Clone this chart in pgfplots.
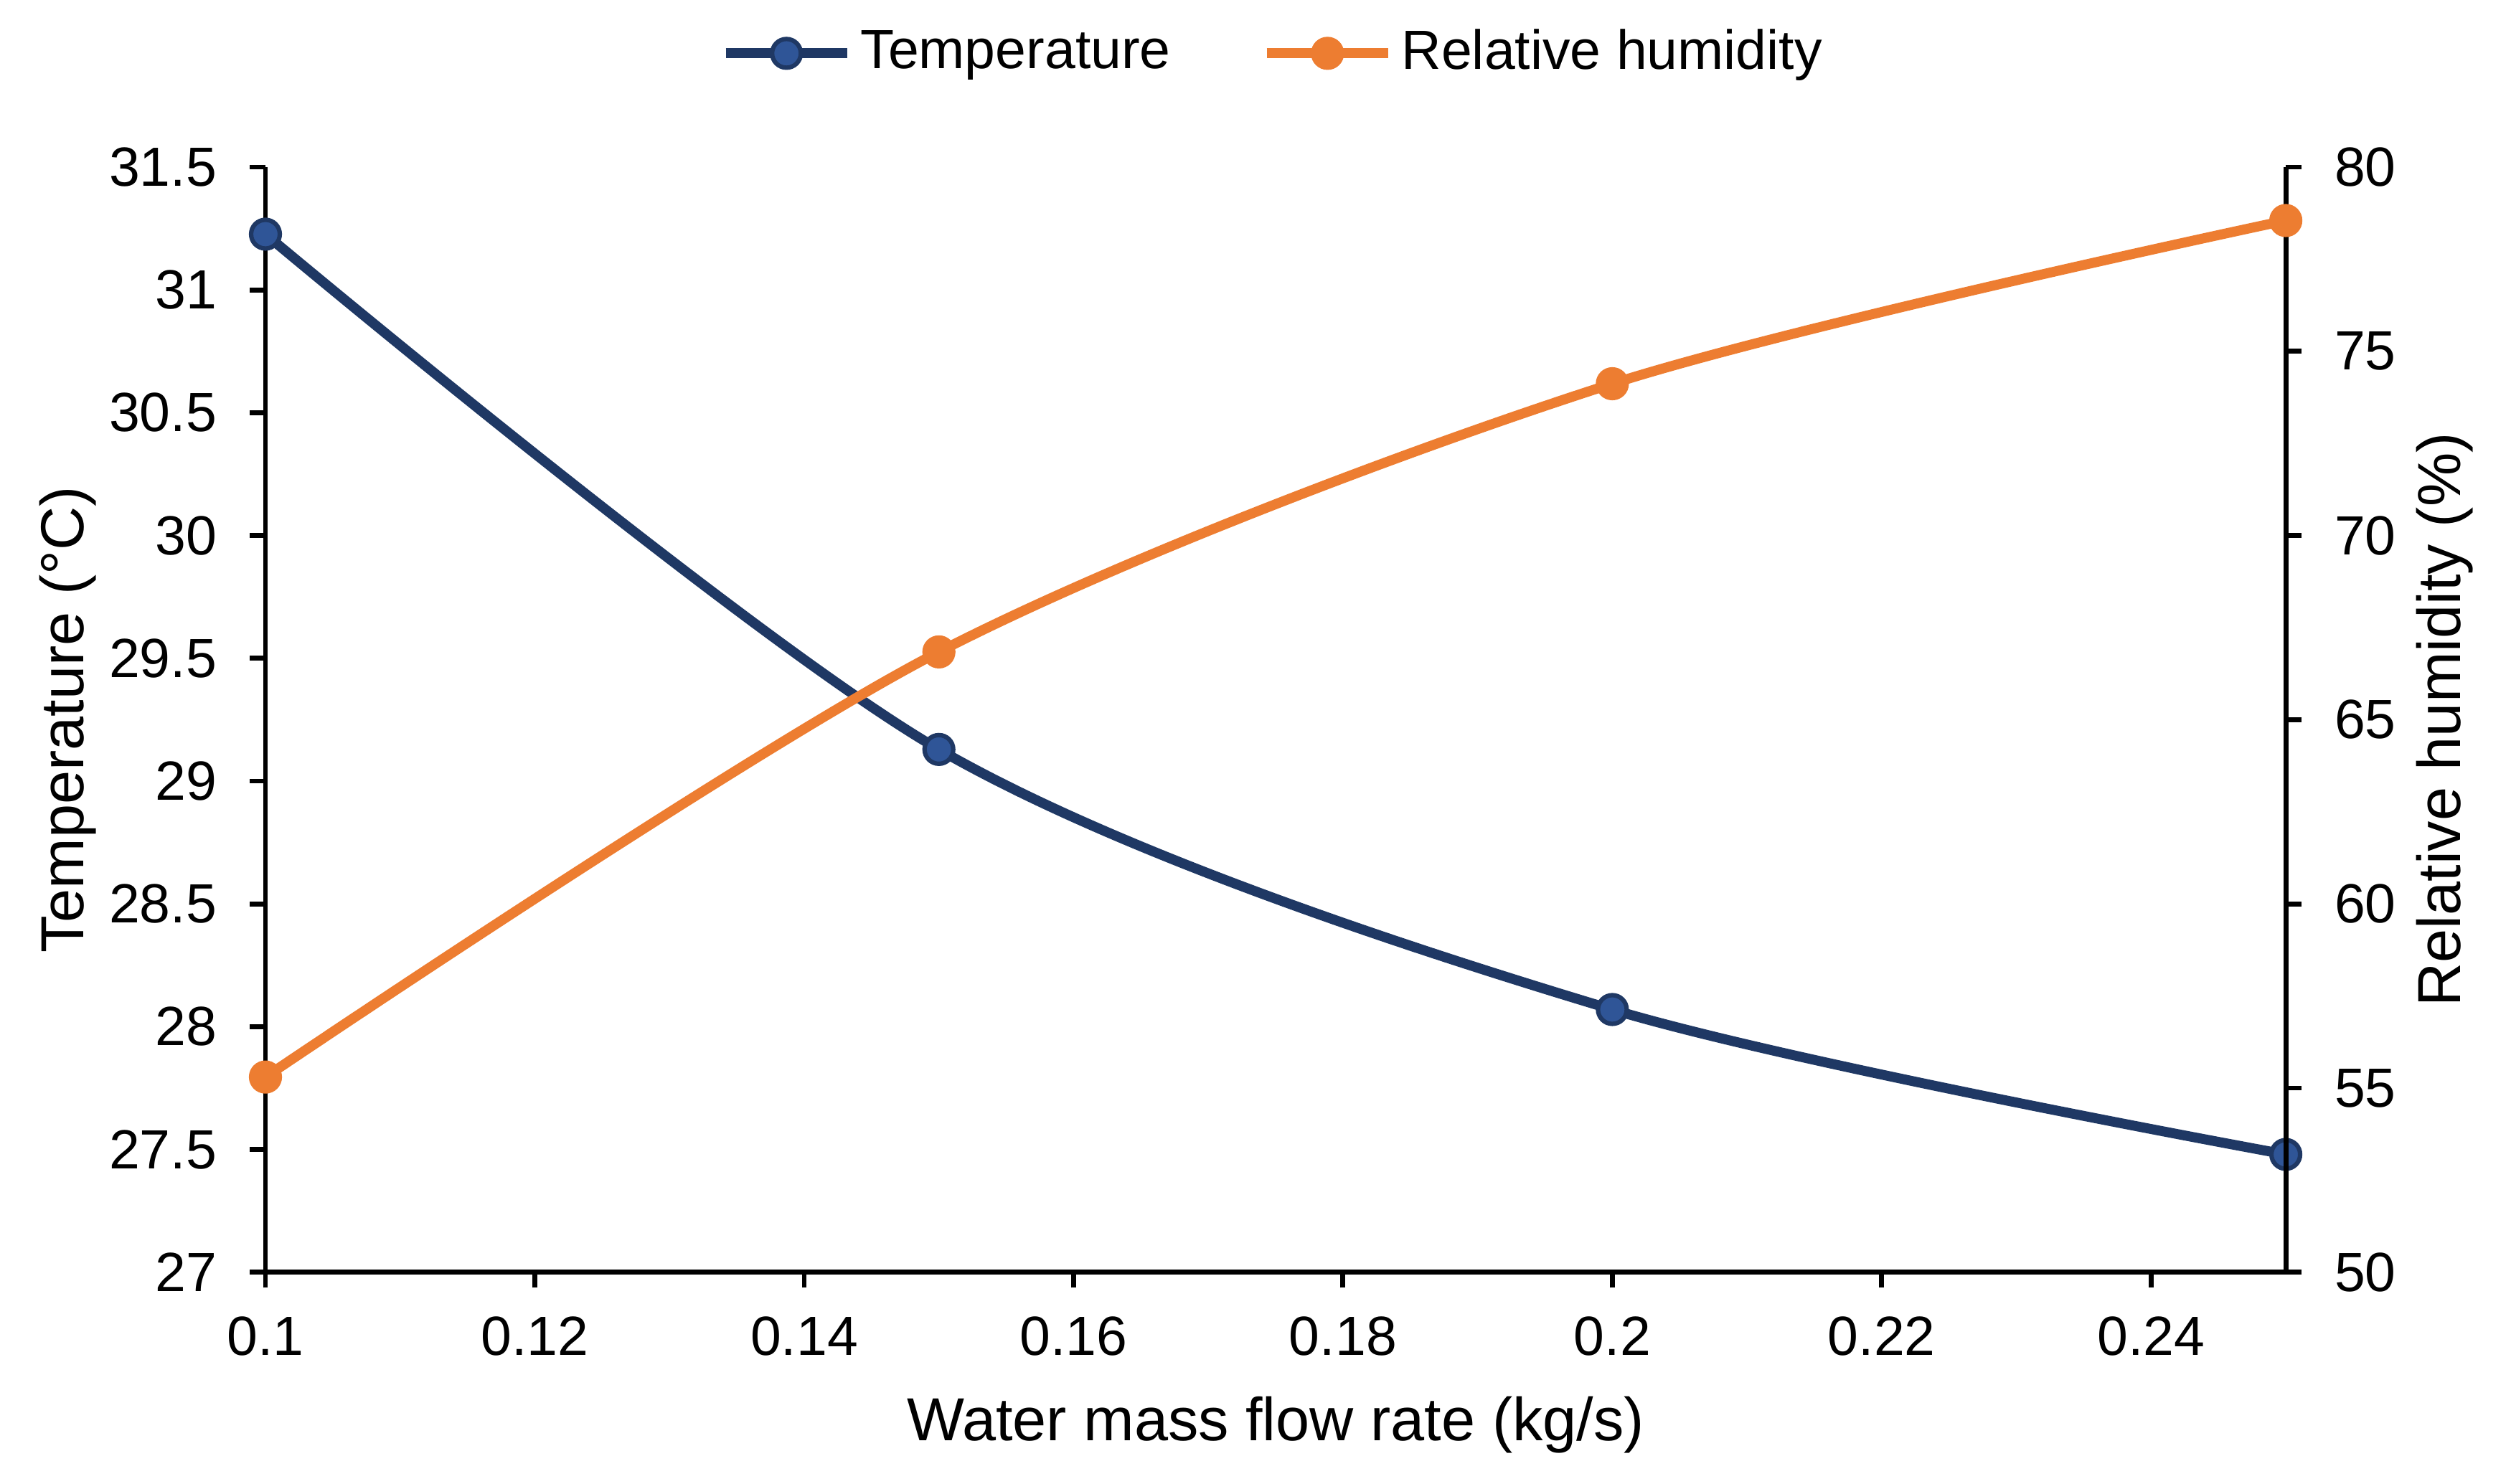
\documentclass[border=0pt]{standalone}
\usepackage{pgfplots}
\pgfplotsset{compat=1.18}
\usepackage{fontspec}
\setmainfont{Liberation Sans}

\definecolor{tline}{RGB}{31,56,100}
\definecolor{tfill}{RGB}{47,85,151}
\definecolor{hline}{RGB}{237,125,49}

\pgfplotsset{
  common/.style={
    width=365.7pt, height=200.1pt,
    scale only axis,
    xmin=0.1, xmax=0.25,
    axis line style={line width=0.9pt},
    every tick/.style={black, line width=0.9pt},
    major tick length=2.8pt,
    tick align=outside,
    tick label style={font=\fontsize{10}{12}\selectfont},
    label style={font=\fontsize{11}{13}\selectfont},
    /pgf/number format/assume math mode=true,
    /pgf/number format/fixed,
    clip=false,
  },
}

\begin{document}
\begin{tikzpicture}
\begin{axis}[
  common,
  axis y line*=left,
  axis x line*=bottom,
  ymin=27, ymax=31.5,
  ytick={27,27.5,...,31.5},
  xtick={0.1,0.12,...,0.25},
  xticklabels={0.1,0.12,0.14,0.16,0.18,0.2,0.22,0.24},
  yticklabels={27,27.5,28,28.5,29,29.5,30,30.5,31,31.5},
  yticklabel style={xshift=-2.5pt},
  xticklabel style={yshift=-1.7pt},
  xlabel={Water mass flow rate (kg/s)},
  ylabel={Temperature (°C)},
  xlabel style={at={(axis description cs:0.5,-0.1524)}, anchor=base},
  ylabel style={at={(axis description cs:-0.0979,0.5)}, anchor=center},
  legend columns=2,
  legend style={draw=none, fill=none, at={(axis description cs:0.5,1)}, anchor=center, yshift=20.6pt,
    font=\fontsize{10}{12}\selectfont,
    /tikz/every even column/.append style={column sep=15pt},
    nodes={inner sep=1.5pt}},
  legend image code/.code={\draw[mark repeat=2,mark phase=2] plot coordinates {(0pt,0pt)(11pt,0pt)(22pt,0pt)};},
]
% page frame, as in the reference image
\path (axis description cs:-0.1314,-0.1914) rectangle (axis description cs:1.1115,1.1512);
\addplot[tline, line width=1.8pt, smooth, mark=*, mark size=2.6pt,
  mark options={fill=tfill, draw=tline, line width=0.8pt}]
  coordinates {(0.1,31.227)(0.15,29.129)(0.2,28.07)(0.25,27.48)};
\addlegendentry{Temperature}
\addlegendimage{hline, line width=1.8pt, mark=*, mark size=2.6pt,
  mark options={fill=hline, draw=hline, line width=0.8pt}}
\addlegendentry{Relative humidity}
\end{axis}

\begin{axis}[
  common,
  axis y line*=right,
  axis x line=none,
  ymin=50, ymax=80,
  ytick={50,55,...,80},
  yticklabel style={xshift=2.5pt},
  ylabel={Relative humidity (\%)},
  ylabel style={at={(axis description cs:1.0788,0.5)}, anchor=center},
]
\addplot[hline, line width=1.8pt, smooth, mark=*, mark size=2.6pt,
  mark options={fill=hline, draw=hline, line width=0.8pt}]
  coordinates {(0.1,55.3)(0.15,66.84)(0.2,74.12)(0.25,78.55)};
\end{axis}
\end{tikzpicture}
\end{document}
